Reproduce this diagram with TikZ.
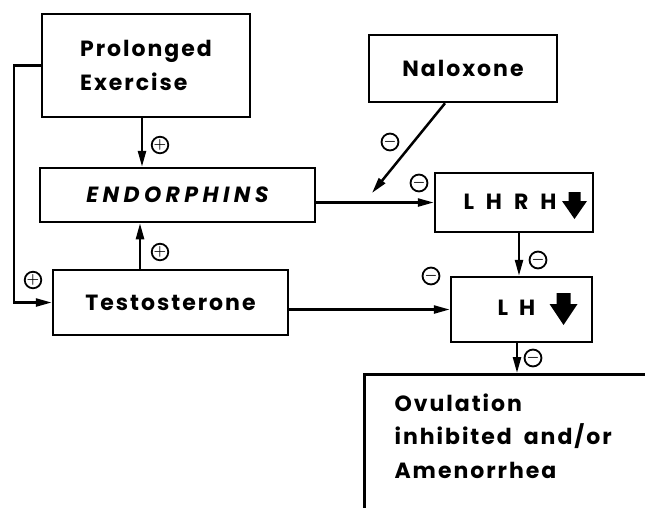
\documentclass[tikz,border=0pt]{standalone}
\usepackage{fontspec}
\newfontfamily\lettering[LetterSpace=9,WordSpace=1.8]{Poppins}
\newfontfamily\widelettering[LetterSpace=20]{Poppins}
\usetikzlibrary{arrows.meta}
\tikzset{
  box/.style={draw,line width=2.5pt,inner sep=0pt},
  arr/.style={line width=2.5pt,-{Triangle[length=16pt,width=8pt]}},
  sgn/.style={circle,draw,line width=1.8pt,inner sep=0pt,minimum size=16pt,font=\fontsize{14}{14}\selectfont\boldmath}
}
\begin{document}
\begin{tikzpicture}[x=1pt,y=-1pt,every node/.style={font=\lettering\bfseries\fontsize{22}{33.5}\selectfont}]
  \useasboundingbox (0,0) rectangle (645,507);
  \clip (0,0) rectangle (645,507);
  % boxes
  \node[box,minimum width=208pt,minimum height=103pt,align=left] (exercise) at (146,65.5) {Prolonged\\Exercise};
  \node[box,minimum width=188pt,minimum height=67pt] (naloxone) at (463,68.5) {Naloxone};
  \node[box,minimum width=275pt,minimum height=54pt,font=\widelettering\bfseries\itshape\fontsize{22}{33}\selectfont] (endorphins) at (177.5,195) {ENDORPHINS};
  \node[box,minimum width=235pt,minimum height=65pt] (testosterone) at (170.5,302.5) {Testosterone};
  \node[box,minimum width=158pt,minimum height=59pt] (lhrh) at (514,202.5) {};
  \node (lhrhtext) at (510,201.5) {L\hspace{12pt}H\hspace{12pt}R\hspace{12pt}H};
  \node[box,minimum width=141pt,minimum height=65pt] (lh) at (521.5,309.5) {};
  \node (lhtext) at (516.5,307.5) {L\hspace{11pt}H};
  \node[box,anchor=north west,minimum width=330pt,minimum height=170pt] (ovulation) at (363,373) {};
  \node[anchor=north west,align=left] (ovutext) at (391,390) {Ovulation\\inhibited and/or\\Amenorrhea};
  % heavy down marks
  \fill[shift={(574.5,192)}] (-6,0) -- (6,0) -- (6,9) -- (12.5,9) -- (0,27) -- (-12.5,9) -- (-6,9) -- cycle;
  \fill[shift={(563.5,293)}] (-7,0) -- (7,0) -- (7,11) -- (14,11) -- (0,32) -- (-14,11) -- (-7,11) -- cycle;
  % connectors
  \draw[arr] ([xshift=-4pt]exercise.south) -- ([xshift=-4pt]exercise.south |- endorphins.north);
  \draw[arr] ([xshift=-30.5pt]testosterone.north) -- ([xshift=-30.5pt]testosterone.north |- endorphins.south);
  \draw[arr] (exercise.west) -- ++(-27,0) |- (testosterone.west);
  \draw[arr] (lhrh.west -| endorphins.east) -- (lhrh.west);
  \coordinate (nalhit) at (372,193);
  \draw[arr] ([xshift=-18pt]naloxone.south) -- (nalhit);
  \draw[arr] (lh.west -| testosterone.east) -- (lh.west);
  \draw[arr] ([xshift=5pt]lhrh.south) -- ([xshift=5pt]lhrh.south |- lh.north);
  \draw[arr] ([xshift=-4.5pt]lh.south) -- ([xshift=-4.5pt]lh.south |- ovulation.north);
  % signs
  \node[sgn] (plusa) at (160,145) {$+$};
  \node[sgn] (plusb) at (160,252) {$+$};
  \node[sgn] (plusc) at (33,280) {$+$};
  \node[sgn] (minusa) at (390,142) {$-$};
  \node[sgn] (minusb) at (419,183) {$-$};
  \node[sgn] (minusc) at (538,260) {$-$};
  \node[sgn] (minusd) at (431,276) {$-$};
  \node[sgn] (minuse) at (533,358) {$-$};
\end{tikzpicture}
\end{document}
